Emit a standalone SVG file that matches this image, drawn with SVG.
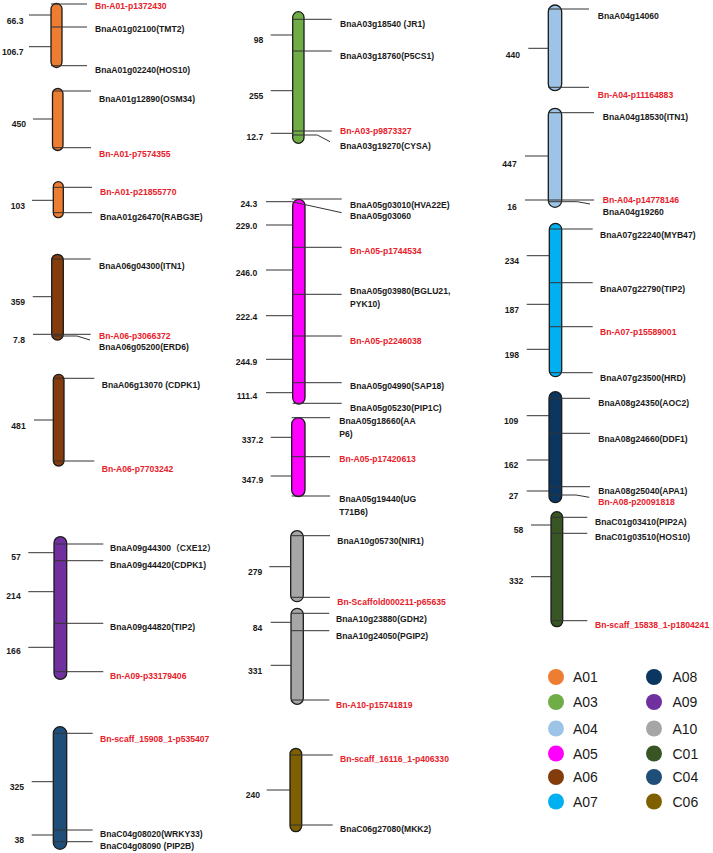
<svg xmlns="http://www.w3.org/2000/svg" width="713" height="853" viewBox="0 0 713 853">
<style>
.chr{stroke:#1a1a1a;stroke-width:1.3}
.ln{stroke:#333;stroke-width:1;fill:none}
.t{font-family:"Liberation Sans",Arial,"Noto Sans CJK SC",sans-serif;font-weight:bold;font-size:8.6px;fill:#1a1a1a}
.s{text-anchor:end}
.r{fill:#e8202a}
.leg{font-family:"Liberation Sans",Arial,sans-serif;font-size:14px;fill:#1a1a1a}
.a01{fill:#ED7D31}.a03{fill:#70AD47}.a04{fill:#9DC3E6}.a05{fill:#FF00FF}.a06{fill:#843C0C}.a07{fill:#00B0F0}
.a08{fill:#0B3660}.a09{fill:#7030A0}.a10{fill:#A6A6A6}.c01{fill:#375623}.c04{fill:#1F4E79}.c06{fill:#7F6000}
</style>
<rect width="713" height="853" fill="#fff"/>

<!-- Column 1 -->
<g id="A01a">
<rect class="chr a01" x="51" y="3.5" width="11" height="64" rx="5.5"/>
<text class="t s" x="23.5" y="23.5">66.3</text>
<text class="t s" x="23.5" y="55">106.7</text>
<text class="t r" x="95" y="9">Bn-A01-p1372430</text>
<text class="t" x="95" y="32">BnaA01g02100(TMT2)</text>
<text class="t" x="95" y="73">BnaA01g02240(HOS10)</text>
</g>
<g id="A01b">
<rect class="chr a01" x="52.5" y="88.5" width="10.5" height="62" rx="5.25"/>
<text class="t s" x="26" y="127">450</text>
<text class="t" x="99" y="101.5">BnaA01g12890(OSM34)</text>
<text class="t r" x="99" y="157">Bn-A01-p7574355</text>
</g>
<g id="A01c">
<rect class="chr a01" x="53.3" y="181.7" width="10" height="36" rx="5"/>
<text class="t s" x="25" y="208.5">103</text>
<text class="t r" x="100" y="194.5">Bn-A01-p21855770</text>
<text class="t" x="100" y="220">BnaA01g26470(RABG3E)</text>
</g>
<g id="A06a">
<rect class="chr a06" x="51.7" y="254.3" width="11.6" height="85.7" rx="5.8"/>
<text class="t s" x="25" y="305">359</text>
<text class="t s" x="25" y="343">7.8</text>
<text class="t" x="99" y="268.5">BnaA06g04300(ITN1)</text>
<text class="t r" x="99" y="338.5">Bn-A06-p3066372</text>
<text class="t" x="99" y="350">BnaA06g05200(ERD6)</text>
</g>
<g id="A06b">
<rect class="chr a06" x="53.3" y="374.3" width="10.7" height="91.7" rx="5.35"/>
<text class="t s" x="25.7" y="429">481</text>
<text class="t" x="101.7" y="387.7">BnaA06g13070 (CDPK1)</text>
<text class="t r" x="101.7" y="472">Bn-A06-p7703242</text>
</g>
<g id="A09">
<rect class="chr a09" x="54" y="536.7" width="12.7" height="142.6" rx="6.35"/>
<text class="t s" x="20.7" y="559.5">57</text>
<text class="t s" x="20.7" y="598.5">214</text>
<text class="t s" x="20.7" y="654">166</text>
<text class="t" x="110" y="551">BnaA09g44300（CXE12）</text>
<text class="t" x="110" y="567.5">BnaA09g44420(CDPK1)</text>
<text class="t" x="110" y="630">BnaA09g44820(TIP2)</text>
<text class="t r" x="110" y="678.5">Bn-A09-p33179406</text>
</g>
<g id="C04">
<rect class="chr c04" x="53.3" y="726.7" width="13.4" height="122.6" rx="6.7"/>
<text class="t s" x="24" y="790">325</text>
<text class="t s" x="24" y="843">38</text>
<text class="t r" x="100" y="742">Bn-scaff_15908_1-p535407</text>
<text class="t" x="100" y="837">BnaC04g08020(WRKY33)</text>
<text class="t" x="100" y="848.5">BnaC04g08090 (PIP2B)</text>
</g>

<!-- Column 2 -->
<g id="A03">
<rect class="chr a03" x="292.7" y="11.7" width="11.3" height="131.6" rx="5.65"/>
<text class="t s" x="263.3" y="43">98</text>
<text class="t s" x="263.3" y="99">255</text>
<text class="t s" x="263.3" y="140">12.7</text>
<text class="t" x="340" y="27">BnaA03g18540 (JR1)</text>
<text class="t" x="340" y="58.5">BnaA03g18760(P5CS1)</text>
<text class="t r" x="340" y="133.5">Bn-A03-p9873327</text>
<text class="t" x="340" y="148.5">BnaA03g19270(CYSA)</text>
</g>
<g id="A05a">
<rect class="chr a05" x="292.7" y="199.3" width="12.3" height="204.7" rx="6.15"/>
<text class="t s" x="257.3" y="206.7">24.3</text>
<text class="t s" x="257.3" y="229">229.0</text>
<text class="t s" x="257.3" y="276">246.0</text>
<text class="t s" x="257.3" y="320">222.4</text>
<text class="t s" x="257.3" y="365">244.9</text>
<text class="t s" x="257.3" y="398.5">111.4</text>
<text class="t" x="350" y="207.5">BnaA05g03010(HVA22E)</text>
<text class="t" x="350" y="219">BnaA05g03060</text>
<text class="t r" x="350" y="253.5">Bn-A05-p1744534</text>
<text class="t" x="350" y="293.5">BnaA05g03980(BGLU21,</text>
<text class="t" x="350" y="306.5">PYK10)</text>
<text class="t r" x="350" y="343.5">Bn-A05-p2246038</text>
<text class="t" x="350" y="388.5">BnaA05g04990(SAP18)</text>
<text class="t" x="350" y="411">BnaA05g05230(PIP1C)</text>
</g>
<g id="A05b">
<rect class="chr a05" x="291.7" y="417.7" width="13.3" height="79" rx="6.65"/>
<text class="t s" x="263.3" y="442.5">337.2</text>
<text class="t s" x="263.3" y="482.5">347.9</text>
<text class="t" x="339.3" y="423.5">BnaA05g18660(AA</text>
<text class="t" x="339.3" y="437">P6)</text>
<text class="t r" x="339.3" y="462">Bn-A05-p17420613</text>
<text class="t" x="339.3" y="502">BnaA05g19440(UG</text>
<text class="t" x="339.3" y="515">T71B6)</text>
</g>
<g id="A10a">
<rect class="chr a10" x="290.7" y="530.7" width="12.6" height="71" rx="6.3"/>
<text class="t s" x="262.3" y="574.5">279</text>
<text class="t" x="337.3" y="544">BnaA10g05730(NIR1)</text>
<text class="t r" x="337.3" y="605">Bn-Scaffold000211-p65635</text>
</g>
<g id="A10b">
<rect class="chr a10" x="291" y="608.3" width="12.3" height="96" rx="6.15"/>
<text class="t s" x="262.3" y="631">84</text>
<text class="t s" x="262.3" y="673.5">331</text>
<text class="t" x="336" y="621.5">BnaA10g23880(GDH2)</text>
<text class="t" x="336" y="639">BnaA10g24050(PGIP2)</text>
<text class="t r" x="336" y="708">Bn-A10-p15741819</text>
</g>
<g id="C06">
<rect class="chr c06" x="290" y="748.3" width="11.7" height="83.4" rx="5.85"/>
<text class="t s" x="260" y="797.5">240</text>
<text class="t r" x="340" y="762">Bn-scaff_16116_1-p406330</text>
<text class="t" x="340" y="832">BnaC06g27080(MKK2)</text>
</g>

<!-- Column 3 -->
<g id="A04a">
<rect class="chr a04" x="548.3" y="5" width="13.4" height="85.7" rx="6.7"/>
<text class="t s" x="520" y="57.5">440</text>
<text class="t" x="597.7" y="18.5">BnaA04g14060</text>
<text class="t r" x="597.7" y="97.5">Bn-A04-p11164883</text>
</g>
<g id="A04b">
<rect class="chr a04" x="548.3" y="108.3" width="13.4" height="99" rx="6.7"/>
<text class="t s" x="516.7" y="167">447</text>
<text class="t s" x="516.7" y="210">16</text>
<text class="t" x="602.7" y="120">BnaA04g18530(ITN1)</text>
<text class="t r" x="602.7" y="203">Bn-A04-p14778146</text>
<text class="t" x="602.7" y="215">BnaA04g19260</text>
</g>
<g id="A07">
<rect class="chr a07" x="549.3" y="223.3" width="12.4" height="153.4" rx="6.2"/>
<text class="t s" x="519" y="264">234</text>
<text class="t s" x="519" y="312.5">187</text>
<text class="t s" x="519" y="357.5">198</text>
<text class="t" x="600" y="237.5">BnaA07g22240(MYB47)</text>
<text class="t" x="600" y="291.5">BnaA07g22790(TIP2)</text>
<text class="t r" x="600" y="335">Bn-A07-p15589001</text>
<text class="t" x="600" y="380.5">BnaA07g23500(HRD)</text>
</g>
<g id="A08">
<rect class="chr a08" x="549" y="391.7" width="12.7" height="111" rx="6.35"/>
<text class="t s" x="518.3" y="423.5">109</text>
<text class="t s" x="518.3" y="467.5">162</text>
<text class="t s" x="518.3" y="498.5">27</text>
<text class="t" x="598.3" y="406">BnaA08g24350(AOC2)</text>
<text class="t" x="598.3" y="441.5">BnaA08g24660(DDF1)</text>
<text class="t" x="598.3" y="494">BnaA08g25040(APA1)</text>
<text class="t r" x="598.3" y="505">Bn-A08-p20091818</text>
</g>
<g id="C01">
<rect class="chr c01" x="551" y="511.7" width="11.7" height="115" rx="5.85"/>
<text class="t s" x="523.3" y="533">58</text>
<text class="t s" x="523.3" y="584">332</text>
<text class="t" x="595" y="525">BnaC01g03410(PIP2A)</text>
<text class="t" x="595" y="540">BnaC01g03510(HOS10)</text>
<text class="t r" x="595" y="628">Bn-scaff_15838_1-p1804241</text>
</g>

<!-- Connectors: marker lines and scale ticks -->
<g id="connectors" class="ln">
<path d="M51 4H87M51 27H87M51 65.7H87M29 15H51M29 46.7H51"/>
<path d="M52.5 91H91M52.5 147.7H91M33 119H52.5"/>
<path d="M53.3 187.3H92M53.3 212.7H92M32 200.3H53.3"/>
<path d="M51.7 259H90.7M33 334.3H90.7M51.7 336H77L90 340M32.7 296.7H51.7"/>
<path d="M53.3 378.3H94.3M53.3 461H94.3M34 420H53.3"/>
<path d="M54 544H103.3M54 560.7H103.3M54 623.3H103.3M54 671.7H103.3M28.3 552.7H54M28.3 591.7H54M28.3 647.3H54"/>
<path d="M53.3 733.3H92.7M53.3 830H92.7M53.3 841.7H92.7M31.7 781.7H53.3M31.7 835H53.3"/>
<path d="M292.7 19.3H331.7M292.7 51H331.7M292.7 131H331.7M292.7 135H317.3L330 141.7M270.7 35H292.7M270.7 90.7H292.7M270.7 133.3H292.7"/>
<path d="M291.7 199H341.7M266 201.7H291.7L341.7 212.7M292.7 247.3H341.7M292.7 294.3H341.7M292.7 336H341.7M292.7 382.7H341.7M292.7 403.3H341.7"/>
<path d="M266 225H292.7M266 270H292.7M266 315.7H292.7M266 359.3H292.7M266 392.7H292.7"/>
<path d="M291.7 417.7H330M291.7 456.7H330M291.7 496H330M270.7 437.3H291.7M270.7 476H291.7"/>
<path d="M290.7 535.7H330M290.7 597.3H330M269.3 566.7H290.7"/>
<path d="M291 613.3H329.3M291 630.7H329.3M291 700H329.3M270.7 622.3H291M270.7 665.3H291"/>
<path d="M290 755H332.7M290 825H332.7M266.7 790H290"/>
<path d="M548.3 9H589M548.3 87.3H589M528.3 48.3H548.3"/>
<path d="M548.3 112.7H594M525 200H594M548.3 201.7H577.3L590 204M525 156H548.3"/>
<path d="M549.3 229H592.7M549.3 282.7H592.7M549.3 326.7H592.7M549.3 372.7H592.7M526.7 255.7H549.3M526.7 304.3H549.3M526.7 349.3H549.3"/>
<path d="M549 398.3H590M549 433.3H590M549 486.7H590M549 495H576L589.3 497.3M526.7 415.7H549M526.7 460H549M526.7 491H549"/>
<path d="M551 517.3H587.3M551 533.3H587.3M551 620.7H587.3M531 525H551M531 576.7H551"/>
</g>

<!-- Legend -->
<g id="legend">
<circle class="a01" cx="556" cy="677" r="8"/><text class="leg" x="573" y="682">A01</text>
<circle class="a03" cx="556" cy="702" r="8"/><text class="leg" x="573" y="707">A03</text>
<circle class="a04" cx="556" cy="728.5" r="8"/><text class="leg" x="573" y="733.5">A04</text>
<circle class="a05" cx="556" cy="753.5" r="8"/><text class="leg" x="573" y="758.5">A05</text>
<circle class="a06" cx="556" cy="777" r="8"/><text class="leg" x="573" y="782">A06</text>
<circle class="a07" cx="556" cy="801.5" r="8"/><text class="leg" x="573" y="806.5">A07</text>
<circle class="a08" cx="654" cy="677" r="8"/><text class="leg" x="672.5" y="682">A08</text>
<circle class="a09" cx="654" cy="702" r="8"/><text class="leg" x="672.5" y="707">A09</text>
<circle class="a10" cx="654" cy="728.5" r="8"/><text class="leg" x="672.5" y="733.5">A10</text>
<circle class="c01" cx="654" cy="753.5" r="8"/><text class="leg" x="672.5" y="758.5">C01</text>
<circle class="c04" cx="654" cy="777" r="8"/><text class="leg" x="672.5" y="782">C04</text>
<circle class="c06" cx="654" cy="801.5" r="8"/><text class="leg" x="672.5" y="806.5">C06</text>
</g>
</svg>
